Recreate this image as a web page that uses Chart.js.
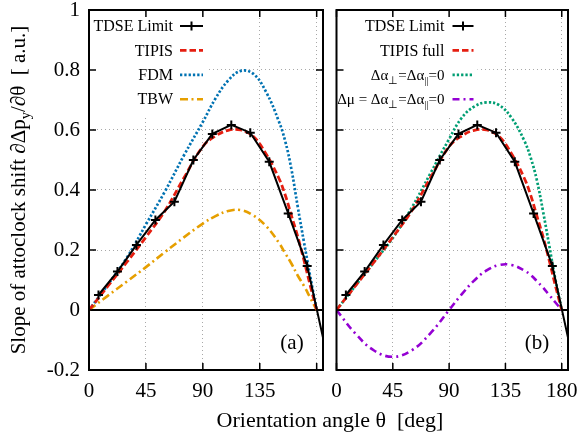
<!DOCTYPE html>
<html>
<head>
<meta charset="utf-8">
<script src="https://cdn.jsdelivr.net/npm/chart.js@4.4.0/dist/chart.umd.min.js"></script>
<style>
  body { margin: 0; background: #fff; }
  #wrap { position: relative; width: 583px; height: 435px; overflow: hidden; }
  .panel { position: absolute; top: 0; height: 435px; }
  #left { left: 0; width: 330px; }
  #right { left: 330px; width: 253px; }
  #xtitle {
    position: absolute; left: 130px; width: 400px; top: 406px;
    text-align: center; font: 22px/28px "Liberation Serif", serif; color: #000;
    white-space: pre;
  }
</style>
</head>
<body>
<div id="wrap">
  <div class="panel" id="left"><canvas id="chartA"></canvas></div>
  <div class="panel" id="right"><canvas id="chartB"></canvas></div>
  <div id="xtitle">Orientation angle θ  [deg]</div>
</div>
<script>
const theta = [0, 15, 30, 45, 60, 75, 90, 100, 110, 120, 130, 140, 150, 155, 160, 165, 170, 175, 180];
const tipis = [0, 0.08, 0.16, 0.243, 0.33, 0.44, 0.545, 0.58, 0.599, 0.60, 0.578, 0.52, 0.44, 0.385, 0.315, 0.245, 0.165, 0.08, 0];
const fdm = [0, 0.085, 0.175, 0.285, 0.395, 0.515, 0.627, 0.705, 0.765, 0.797, 0.787, 0.727, 0.63, 0.565, 0.47, 0.345, 0.225, 0.11, 0];
const tbw = [0, 0.048, 0.095, 0.143, 0.193, 0.242, 0.288, 0.313, 0.33, 0.333, 0.315, 0.28, 0.225, 0.19, 0.155, 0.115, 0.08, 0.04, 0];
const noPolar = [0, 0.08, 0.16, 0.24, 0.34, 0.455, 0.57, 0.64, 0.678, 0.692, 0.683, 0.64, 0.565, 0.51, 0.435, 0.33, 0.215, 0.1, 0];
const noDipole = [0, -0.078, -0.135, -0.156, -0.135, -0.078, 0, 0.052, 0.098, 0.132, 0.15, 0.15, 0.132, 0.117, 0.097, 0.075, 0.05, 0.025, 0];

// TDSE limit points
const thetaTdse = [7.5, 22.5, 37.5, 52.5, 67.5, 82.5, 97.5, 112.5, 127.5, 142.5, 157.5, 172.5, 187.5];
const tdse = [0.05, 0.128, 0.217, 0.30, 0.361, 0.50, 0.587, 0.617, 0.591, 0.494, 0.322, 0.147, -0.14];

const xTicks = [0, 45, 90, 135, 180];
const yTicks = [-0.2, 0, 0.2, 0.4, 0.6, 0.8, 1];

const FONT = '"Liberation Serif", "Times New Roman", serif';
const pts = (xs, ys) => xs.map((x, i) => ({ x, y: ys[i] }));

function curve(label, data, color, dash, width) {
  return {
    label, data, borderColor: color, borderDash: dash, borderWidth: width,
    pointRadius: 0, tension: 0.4, fill: false
  };
}

function tdseSet() {
  return {
    label: 'TDSE Limit', data: pts(thetaTdse, tdse), borderColor: '#000', borderWidth: 2,
    tension: 0, pointStyle: 'cross', pointBorderColor: '#000', pointBorderWidth: 2,
    pointRadius: ctx => (ctx.raw && ctx.raw.x > 180 ? 0 : 4.5), marker: true
  };
}

function setFont(ctx, size) { ctx.font = size + 'px ' + FONT; }

function richWidth(ctx, parts, size) {
  let w = 0;
  parts.forEach(([t, sub]) => { setFont(ctx, sub ? size * 0.7 : size); w += ctx.measureText(t).width; });
  return w;
}

function drawRich(ctx, parts, x, y, size) {
  ctx.textAlign = 'left';
  ctx.textBaseline = 'alphabetic';
  parts.forEach(([t, sub]) => {
    setFont(ctx, sub ? size * 0.7 : size);
    ctx.fillText(t, x, sub ? y + size * 0.25 : y);
    x += ctx.measureText(t).width;
  });
}

const frame = {
  id: 'frame',
  beforeDatasetsDraw(chart, args, o) {
    const { ctx, chartArea: a, scales: { y } } = chart;
    ctx.save();
    ctx.fillStyle = '#fff';
    ctx.fillRect(a.left + 1, a.top + 1, o.boxW, o.boxH);
    const y0 = y.getPixelForValue(0);
    ctx.strokeStyle = '#000';
    ctx.lineWidth = 2;
    ctx.beginPath();
    ctx.moveTo(a.left, y0);
    ctx.lineTo(a.right, y0);
    ctx.stroke();
    ctx.restore();
  },
  afterDatasetsDraw(chart, args, o) {
    const { ctx, chartArea: a, scales: { x, y } } = chart;
    ctx.save();
    ctx.strokeStyle = '#000';
    ctx.lineWidth = 1.5;
    ctx.setLineDash([]);
    ctx.beginPath();
    x.ticks.forEach(t => {
      const px = x.getPixelForValue(t.value);
      ctx.moveTo(px, a.bottom); ctx.lineTo(px, a.bottom - 7);
      ctx.moveTo(px, a.top); ctx.lineTo(px, a.top + 7);
    });
    y.ticks.forEach(t => {
      const py = y.getPixelForValue(t.value);
      ctx.moveTo(a.left, py); ctx.lineTo(a.left + 7, py);
      ctx.moveTo(a.right, py); ctx.lineTo(a.right - 7, py);
    });
    ctx.stroke();
    ctx.lineWidth = 2;
    ctx.strokeRect(a.left, a.top, a.right - a.left, a.bottom - a.top);

    // legend
    chart.data.datasets.forEach((ds, i) => {
      const cy = a.top + 16 + i * 24.4;
      const parts = o.names[i];
      const size = o.sizes[i];
      const w = richWidth(ctx, parts, size);
      ctx.fillStyle = '#000';
      drawRich(ctx, parts, a.left + o.textRight - w, cy + size * 0.33, size);
      const x1 = a.left + o.sampleFrom, x2 = a.left + o.sampleTo;
      ctx.strokeStyle = ds.borderColor;
      ctx.lineWidth = ds.borderWidth;
      ctx.setLineDash(ds.borderDash || []);
      ctx.beginPath();
      ctx.moveTo(x1, cy); ctx.lineTo(x2, cy);
      ctx.stroke();
      ctx.setLineDash([]);
      if (ds.marker) {
        const mx = (x1 + x2) / 2;
        ctx.lineWidth = 2;
        ctx.beginPath();
        ctx.moveTo(mx - 4.5, cy); ctx.lineTo(mx + 4.5, cy);
        ctx.moveTo(mx, cy - 4.5); ctx.lineTo(mx, cy + 4.5);
        ctx.stroke();
      }
    });

    // panel tag
    ctx.fillStyle = '#000';
    setFont(ctx, 21);
    ctx.textAlign = 'center';
    ctx.textBaseline = 'middle';
    ctx.fillText(o.tag, a.right - 31, a.bottom - 27);

    // y axis title
    if (o.yTitle) {
      const size = 21;
      const w = richWidth(ctx, o.yTitle, size);
      ctx.translate(18, (a.top + a.bottom) / 2);
      ctx.rotate(-Math.PI / 2);
      drawRich(ctx, o.yTitle, -w / 2, size * 0.33, size);
    }
    ctx.restore();
  }
};

function makeChart(id, datasets, cfg) {
  return new Chart(document.getElementById(id), {
    type: 'line',
    data: { datasets },
    options: {
      responsive: true,
      maintainAspectRatio: false,
      animation: false,
      events: [],
      layout: { padding: cfg.padding },
      plugins: { legend: { display: false }, tooltip: { enabled: false }, frame: cfg.frame },
      scales: {
        x: {
          type: 'linear', min: 0, max: 185,
          afterBuildTicks: s => { s.ticks = xTicks.map(v => ({ value: v })); },
          afterFit: s => { s.height = 65; },
          grid: { color: '#a8a8a8', lineWidth: 1, drawTicks: false },
          border: { display: false, dash: [1, 3] },
          ticks: {
            // tall line box pushes the labels down without adding side padding
            font: { family: FONT, size: 21, lineHeight: 2.04 }, color: '#000', padding: 0,
            maxRotation: 0, autoSkip: false,
            callback: v => (cfg.hide180 && v === 180 ? '' : String(v))
          }
        },
        y: {
          type: 'linear', min: -0.2, max: 1,
          afterBuildTicks: s => { s.ticks = yTicks.map(v => ({ value: v })); },
          afterFit: s => { s.width = cfg.yWidth; },
          grid: { color: '#a8a8a8', lineWidth: 1, drawTicks: false },
          border: { display: false, dash: [1, 3] },
          ticks: {
            // tiny line box so the labels do not push the plot area down
            display: cfg.yLabels, font: { family: FONT, size: 21, lineHeight: 0.05 },
            color: '#000', padding: 9,
            callback: v => String(+v.toFixed(1))
          }
        }
      }
    },
    plugins: [frame]
  });
}

makeChart('chartA', [
  tdseSet(),
  curve('TIPIS', pts(theta, tipis), '#e51e10', [6.5, 3], 2.8),
  curve('FDM', pts(theta, fdm), '#0072b2', [2.3, 2], 2.7),
  curve('TBW', pts(theta, tbw), '#e69f00', [8, 3.5, 2, 3.5], 2.6)
], {
  padding: { left: 0, top: 10, right: 7, bottom: 0 },
  yWidth: 89, yLabels: true, hide180: true,
  frame: {
    tag: '(a)', boxW: 118, boxH: 104,
    textRight: 84, sampleFrom: 91, sampleTo: 114,
    names: [[['TDSE Limit', 0]], [['TIPIS', 0]], [['FDM', 0]], [['TBW', 0]]],
    sizes: [16, 16, 16, 16],
    yTitle: [['Slope of attoclock shift ∂Δp', 0], ['y', 1], ['/∂θ  [ a.u.]', 0]]
  }
});

makeChart('chartB', [
  tdseSet(),
  curve('TIPIS full', pts(theta, tipis), '#e51e10', [6.5, 3], 2.8),
  curve('Δα⊥=Δα||=0', pts(theta, noPolar), '#009e73', [2.3, 2], 2.7),
  curve('Δμ = Δα⊥=Δα||=0', pts(theta, noDipole), '#9400d3', [7, 4, 2, 4], 2.6)
], {
  padding: { left: 0, top: 10, right: 15, bottom: 0 },
  yWidth: 5, yLabels: false, hide180: false,
  frame: {
    tag: '(b)', boxW: 140, boxH: 104,
    textRight: 108, sampleFrom: 116, sampleTo: 137,
    names: [
      [['TDSE Limit', 0]],
      [['TIPIS full', 0]],
      [['Δα', 0], ['⊥', 1], ['=Δα', 0], ['||', 1], ['=0', 0]],
      [['Δμ = Δα', 0], ['⊥', 1], ['=Δα', 0], ['||', 1], ['=0', 0]]
    ],
    sizes: [16, 16, 15, 15]
  }
});
</script>
</body>
</html>
